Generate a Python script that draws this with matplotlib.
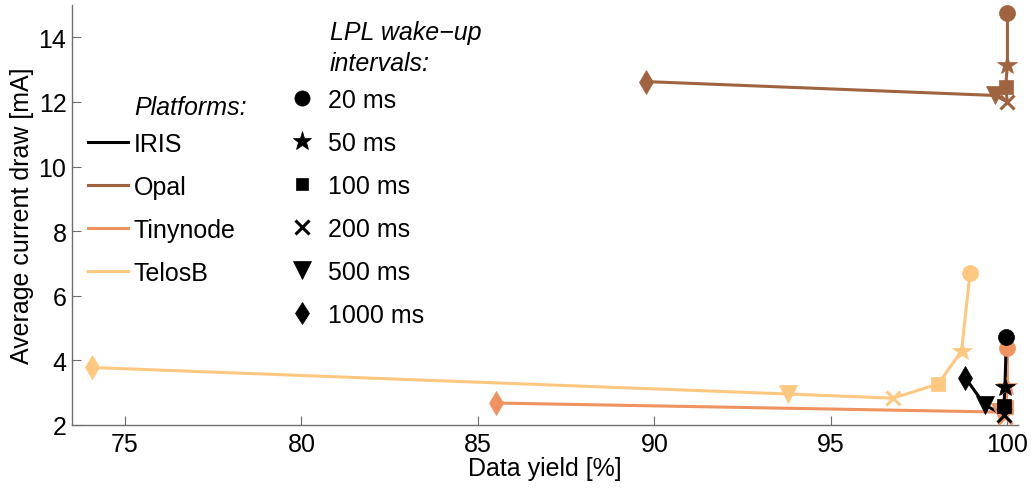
import numpy as np
import matplotlib.pyplot as plt
from matplotlib.lines import Line2D

plt.rcParams['font.family'] = ['Liberation Sans', 'DejaVu Sans']

# LPL wake-up intervals and their markers
intervals = ['20 ms', '50 ms', '100 ms', '200 ms', '500 ms', '1000 ms']
markers   = ['o', '*', 's', 'x', 'v', 'd']
msizes    = [11.5, 15, 9.5, 10, 13, 12]

platforms = ['IRIS', 'Opal', 'Tinynode', 'TelosB']
colors    = ['#000000', '#A0633F', '#EF925F', '#FFC880']

# data yield [%] / average current [mA], one value per interval
iris_yield       = [99.97, 99.93, 99.90, 99.90, 99.36, 98.80]
iris_current     = [4.71, 3.17, 2.60, 2.30, 2.62, 3.47]
opal_yield       = [100.0, 100.0, 99.95, 100.0, 99.65, 89.75]
opal_current     = [14.75, 13.14, 12.46, 12.00, 12.20, 12.63]
tinynode_yield   = [100.0, 100.0, 99.95, 99.93, 99.80, 85.50]
tinynode_current = [4.38, 3.20, 2.55, 2.25, 2.40, 2.68]
telosb_yield     = [98.94, 98.70, 98.04, 96.76, 93.78, 74.06]
telosb_current   = [6.69, 4.29, 3.27, 2.83, 2.96, 3.78]

series = [
    (iris_yield, iris_current),
    (opal_yield, opal_current),
    (tinynode_yield, tinynode_current),
    (telosb_yield, telosb_current),
]

FS = 18
LW = 2.2
GREY = '#6e6e6e'

fig = plt.figure(figsize=(10.32, 4.89), dpi=100)
ax = fig.add_axes([72/1032, 63/489, 946/1032, 420/489])

# lines first, then markers, TelosB at the back and IRIS on top
for (xs, ys), c in reversed(list(zip(series, colors))):
    ax.plot(xs, ys, color=c, lw=LW, zorder=2)
for (xs, ys), c in reversed(list(zip(series, colors))):
    for x, y, m, s in zip(xs, ys, markers, msizes):
        ax.plot([x], [y], ls='', marker=m, ms=s, color=c,
                mew=2.2 if m == 'x' else 0.5, zorder=3)

ax.set_xlim(73.5, 100.3)
ax.set_ylim(2, 15)
ax.set_xticks([75, 80, 85, 90, 95, 100])
ax.set_yticks([2, 4, 6, 8, 10, 12, 14])
ax.set_xlabel('Data yield [%]', fontsize=FS, labelpad=0)
ax.set_ylabel('Average current draw [mA]', fontsize=FS, labelpad=3)

for side in ['top', 'right']:
    ax.spines[side].set_visible(False)
for side in ['left', 'bottom']:
    ax.spines[side].set_color(GREY)
    ax.spines[side].set_linewidth(1.0)
ax.tick_params(direction='in', length=6.5, width=0.8, color=GREY,
               labelsize=FS)
ax.tick_params(axis='x', pad=5)
ax.tick_params(axis='y', pad=4)

# platform legend (colours)
plat_handles = [Line2D([], [], color=c, lw=LW) for c in colors]
leg1 = ax.legend(plat_handles, platforms, loc='upper left',
                 bbox_to_anchor=(0.0169, 0.6988), frameon=False,
                 fontsize=FS, handlelength=1.6, handletextpad=0.24,
                 labelspacing=0.76, borderpad=0, borderaxespad=0)
ax.add_artist(leg1)
ax.text(0.0655, 0.757, 'Platforms:', transform=ax.transAxes,
        fontsize=FS, style='italic', va='center', ha='left')

# wake-up interval legend (markers)
int_handles = [Line2D([], [], ls='', marker=m, ms=s * 0.95, color='k',
                      mew=2.2 if m == 'x' else 0.5)
               for m, s in zip(markers, msizes)]
ax.legend(int_handles, intervals, loc='upper left',
          bbox_to_anchor=(0.2299, 0.8033), frameon=False,
          fontsize=FS, handlelength=1.0, handletextpad=0.54,
          labelspacing=0.76, borderpad=0, borderaxespad=0)
ax.text(0.2727, 0.8996, 'LPL wake\u2212up\nintervals:', transform=ax.transAxes,
        fontsize=FS, style='italic', va='center', ha='left', linespacing=1.36)

fig.savefig('out.png', dpi=100)
